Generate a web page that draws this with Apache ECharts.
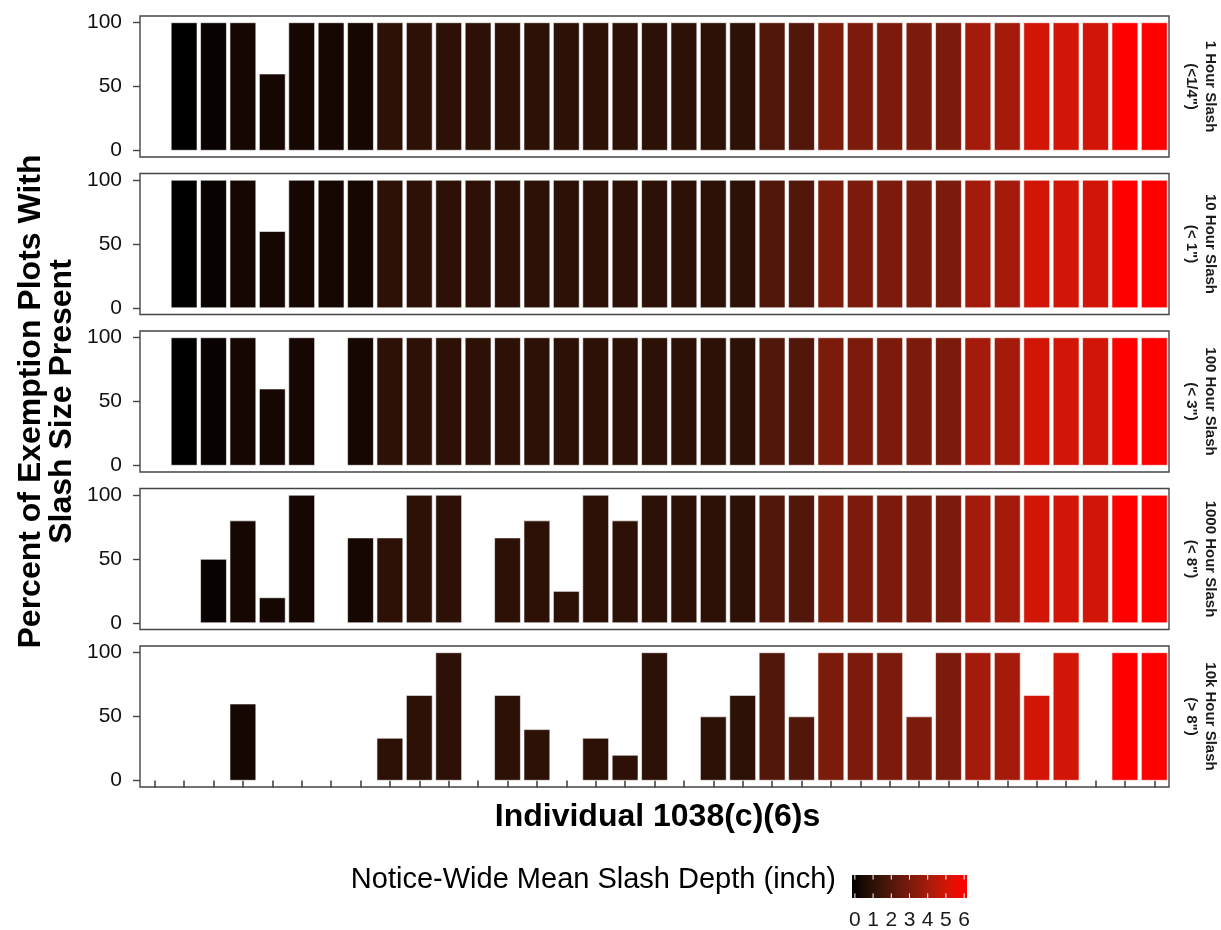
<!DOCTYPE html>
<html>
<head>
<meta charset="utf-8">
<script src="https://cdn.jsdelivr.net/npm/echarts@6/dist/echarts.min.js"></script>
<style>
  html, body { margin: 0; padding: 0; background: #fff; }
  #chart { width: 1221px; height: 930px; }
</style>
</head>
<body>
<div id="chart"></div>
<script>
// one entry per 1038(c)(6); first one has no bars in any panel
const notices = ['N01','N02','N03','N04','N05','N06','N07','N08','N09','N10',
  'N11','N12','N13','N14','N15','N16','N17','N18','N19','N20',
  'N21','N22','N23','N24','N25','N26','N27','N28','N29','N30',
  'N31','N32','N33','N34','N35']

// notice-wide mean slash depth (inch), drives the fill colour
const meanDepth = [null, 0, 0.1, 0.33, 0.33, 0.33, 0.33, 0.33,
  1, 1, 1, 1, 1, 1, 1, 1, 1, 1, 1, 1, 1,
  2, 2, 3, 3, 3, 3, 3, 4, 4, 5, 5, 5, 6, 6]

const panelNames = ['1 Hour Slash\n(<1/4")', '10 Hour Slash\n(< 1")', '100 Hour Slash\n(< 3")',
  '1000 Hour Slash\n(< 8")', '10k Hour Slash\n(> 8")']

const oneHour = [null, 100, 100, 100, 60, 100, 100, 100, 100, 100, 100, 100, 100, 100, 100, 100, 100, 100,
  100, 100, 100, 100, 100, 100, 100, 100, 100, 100, 100, 100, 100, 100, 100, 100, 100]
const tenHour = [null, 100, 100, 100, 60, 100, 100, 100, 100, 100, 100, 100, 100, 100, 100, 100, 100, 100,
  100, 100, 100, 100, 100, 100, 100, 100, 100, 100, 100, 100, 100, 100, 100, 100, 100]
const hundredHour = [null, 100, 100, 100, 60, 100, null, 100, 100, 100, 100, 100, 100, 100, 100, 100, 100, 100,
  100, 100, 100, 100, 100, 100, 100, 100, 100, 100, 100, 100, 100, 100, 100, 100, 100]
const thousandHour = [null, null, 50, 80, 20, 100, null, 66.7, 66.7, 100, 100, null, 66.7, 80, 25, 100, 80, 100,
  100, 100, 100, 100, 100, 100, 100, 100, 100, 100, 100, 100, 100, 100, 100, 100, 100]
const tenKHour = [null, null, null, 60, null, null, null, null, 33.3, 66.7, 100, null, 66.7, 40, null, 33.3, 20, 100,
  null, 50, 66.7, 100, 50, 100, 100, 100, 50, 100, 100, 100, 66.7, 100, null, 100, 100]

const panels = [oneHour, tenHour, hundredHour, thousandHour, tenKHour]
const yTicks = [0, 50, 100]
const depthTicks = [0, 1, 2, 3, 4, 5, 6]

// black -> red, interpolated in Lab like ggplot's scale_fill_gradient
function rgbToLab(r, g, b) {
  const lin = c => { c /= 255; return c <= 0.04045 ? c / 12.92 : Math.pow((c + 0.055) / 1.055, 2.4) }
  const R = lin(r), G = lin(g), B = lin(b)
  const X = (0.4124 * R + 0.3576 * G + 0.1805 * B) / 0.95047
  const Y = 0.2126 * R + 0.7152 * G + 0.0722 * B
  const Z = (0.0193 * R + 0.1192 * G + 0.9505 * B) / 1.08883
  const f = t => t > 216 / 24389 ? Math.cbrt(t) : (24389 / 27 * t + 16) / 116
  return [116 * f(Y) - 16, 500 * (f(X) - f(Y)), 200 * (f(Y) - f(Z))]
}
function labToHex(L, a, b) {
  const fy = (L + 16) / 116, fx = fy + a / 500, fz = fy - b / 200
  const inv = t => t > 6 / 29 ? t * t * t : 3 * (6 / 29) * (6 / 29) * (t - 4 / 29)
  const X = 0.95047 * inv(fx), Y = inv(fy), Z = 1.08883 * inv(fz)
  const rl = 3.2406 * X - 1.5372 * Y - 0.4986 * Z
  const gl = -0.9689 * X + 1.8758 * Y + 0.0415 * Z
  const bl = 0.0557 * X - 0.2040 * Y + 1.0570 * Z
  const gam = c => {
    c = Math.max(0, Math.min(1, c))
    c = c <= 0.0031308 ? 12.92 * c : 1.055 * Math.pow(c, 1 / 2.4) - 0.055
    return Math.round(c * 255).toString(16).padStart(2, '0')
  }
  return '#' + gam(rl) + gam(gl) + gam(bl)
}
const redLab = rgbToLab(255, 0, 0)
const depthMax = 6
function depthColor(d) {
  const t = Math.max(0, Math.min(1, d / depthMax))
  return labToHex(redLab[0] * t, redLab[1] * t, redLab[2] * t)
}

const chart = echarts.init(document.getElementById('chart'), null, {renderer: 'canvas'})

const panelLeft = 140
const panelWidth = 1029
const panelTop = 16
const panelStep = 157.5
const panelHeight = 141
const font = '"Liberation Sans", Arial, sans-serif'

const grids = [], xAxes = [], yAxes = [], series = [], graphics = []
panels.forEach((vals, i) => {
  const last = i === panels.length - 1
  grids.push({
    left: panelLeft, width: panelWidth, top: panelTop + i * panelStep, height: panelHeight,
    show: true, borderColor: '#444', borderWidth: 1.4
  })
  xAxes.push({
    type: 'category', gridIndex: i, data: notices,
    axisLine: {show: false},
    axisTick: {show: last, alignWithLabel: true, interval: 0, length: 7, lineStyle: {color: '#444', width: 1.6}},
    axisLabel: {show: false},
    splitLine: {show: false}
  })
  yAxes.push({
    type: 'value', gridIndex: i, min: -5, max: 105,
    axisLine: {show: false},
    axisTick: {show: true, customValues: yTicks, length: 7, lineStyle: {color: '#444', width: 1.4}},
    axisLabel: {customValues: yTicks, fontFamily: font, fontSize: 21, color: '#111', margin: 18},
    splitLine: {show: false}
  })
  series.push({
    type: 'bar', xAxisIndex: i, yAxisIndex: i, barWidth: '90%',
    data: vals.map((v, k) => v == null ? '-' : {
      value: v,
      itemStyle: {color: depthColor(meanDepth[k])}
    }),
    itemStyle: {borderColor: '#fff', borderWidth: 0.6}
  })
  graphics.push({
    type: 'text', x: 1201, y: panelTop + i * panelStep + panelHeight / 2, rotation: -Math.PI / 2,
    style: {
      text: panelNames[i], fontFamily: font, fontSize: 15, fontWeight: 'bold', fill: '#1a1a1a',
      align: 'center', verticalAlign: 'middle', lineHeight: 19
    }
  })
})

// y axis title across all panels
graphics.push({
  type: 'text', x: 47, y: panelTop + 2 * panelStep + panelHeight / 2, rotation: Math.PI / 2,
  style: {
    text: 'Percent of Exemption Plots With\nSlash Size Present', fontFamily: font, fontSize: 32,
    fontWeight: 'bold', fill: '#000', align: 'center', verticalAlign: 'middle', lineHeight: 31
  }
})
// x axis title under the bottom panel
graphics.push({
  type: 'text', x: panelLeft + panelWidth / 2 + 3, y: 817,
  style: {
    text: 'Individual 1038(c)(6)s', fontFamily: font, fontSize: 32, fontWeight: 'bold', fill: '#000',
    align: 'center', verticalAlign: 'middle'
  }
})

// colour bar legend
const barX = 852, barY = 875, barW = 115, barH = 23
const inset = barW / 40
const valueToX = v => barX + inset + (v / depthMax) * (barW - 2 * inset)
const stops = []
for (let s = 0; s <= 24; s++) {
  const p = s / 24
  const v = ((p * barW - inset) / (barW - 2 * inset)) * depthMax
  stops.push({offset: p, color: depthColor(v)})
}
graphics.push({
  type: 'text', x: 836, y: 880,
  style: {text: 'Notice-Wide Mean Slash Depth (inch)', fontFamily: font, fontSize: 29, fill: '#000',
    align: 'right', verticalAlign: 'middle'}
})
graphics.push({
  type: 'rect', shape: {x: barX, y: barY, width: barW, height: barH},
  style: {fill: new echarts.graphic.LinearGradient(0, 0, 1, 0, stops)}
})
depthTicks.forEach(v => {
  const x = valueToX(v)
  graphics.push({type: 'line', shape: {x1: x, y1: barY, x2: x, y2: barY + barH / 5},
    style: {stroke: '#fff', lineWidth: 1}})
  graphics.push({type: 'line', shape: {x1: x, y1: barY + barH, x2: x, y2: barY + barH * 4 / 5},
    style: {stroke: '#fff', lineWidth: 1}})
  graphics.push({type: 'text', x: x, y: 920,
    style: {text: String(v), fontFamily: font, fontSize: 21, fill: '#1a1a1a', align: 'center', verticalAlign: 'middle'}})
})

chart.setOption({
  animation: false,
  backgroundColor: '#fff',
  grid: grids,
  xAxis: xAxes,
  yAxis: yAxes,
  series: series,
  graphic: graphics
})
</script>
</body>
</html>
